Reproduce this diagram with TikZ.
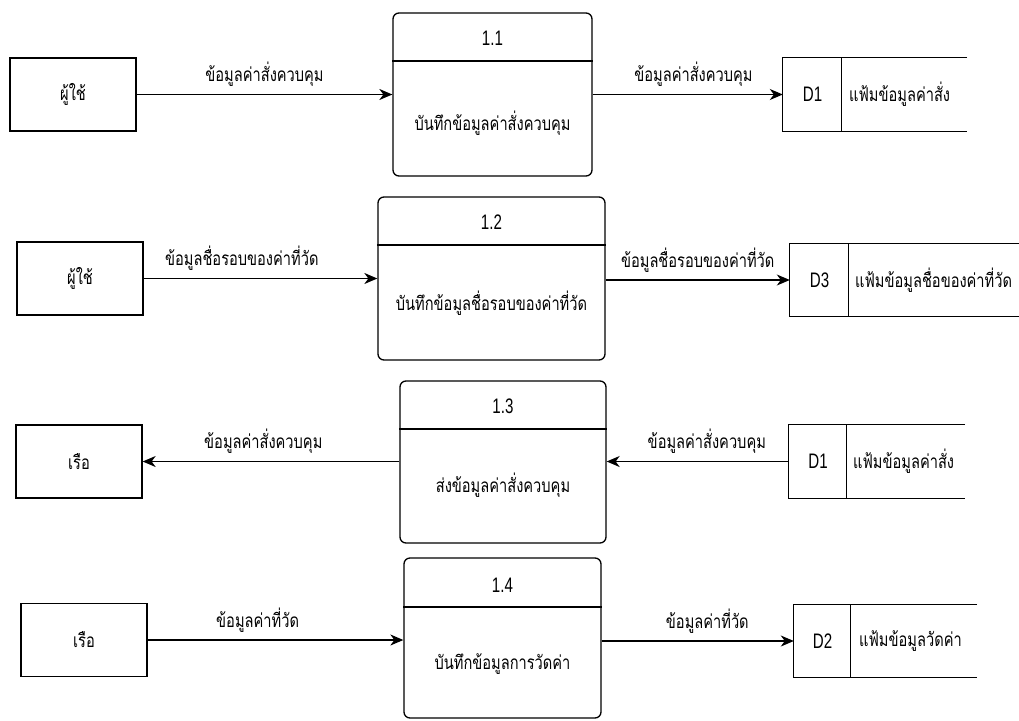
\documentclass[tikz,border=0pt]{standalone}
\usepackage{fontspec}
\setmainfont[FakeStretch=0.72]{Liberation Sans}
\newfontfamily\thaifont[Script=Thai,FakeStretch=0.77]{Loma}
\usetikzlibrary{arrows.meta}
\tikzset{
  ln/.style={line width=1.3pt},
  ent/.style={draw, ln, minimum width=126pt, minimum height=73pt, inner sep=0pt,
    font=\thaifont\fontsize{19}{22}\selectfont},
  proc/.style={draw, ln, rounded corners=6pt, inner sep=0pt},
  storebox/.style={inner sep=0pt, minimum height=73pt},
  num/.style={inner sep=0pt, font=\fontsize{21}{24}\selectfont},
  ttext/.style={inner sep=0pt, font=\thaifont\fontsize{19}{22}\selectfont},
  flow/.style={ln, -{Stealth[length=13pt,width=11pt,inset=4pt]}},
  lbl/.style={ttext, above=7pt}
}
\begin{document}
\begin{tikzpicture}[x=1pt,y=-1pt]
\useasboundingbox (0,0) rectangle (1019,720);
\clip (0,0) rectangle (1019,720);
\fill[white] (0,0) rectangle (1019,720);

% ---------- row 1 ----------
\node[ent] (e1) at (73,94.5) {ผู้ใช้};
\node[proc, minimum width=199pt, minimum height=163pt] (p1) at (492.5,94.5) {};
\draw[ln] (p1.west |- 0,61) -- (p1.east |- 0,61);
\node[num] (p1n) at (492.5,38) {1.1};
\node[ttext] (p1t) at (492.5,123) {บันทึกข้อมูลค่าสั่งควบคุม};
\node[storebox, minimum width=184pt] (s1) at (875,94.5) {};
\draw[ln] (s1.north east) -- (s1.north west) -- (s1.south west) -- (s1.south east);
\draw[ln] ([xshift=59pt]s1.north west) -- ([xshift=59pt]s1.south west);
\node[num] (s1id) at (812.5,94.5) {D1};
\node[ttext, anchor=west] (s1t) at (849,94.5) {แฟ้มข้อมูลค่าสั่ง};
\draw[flow] (e1.east) -- node[lbl] {ข้อมูลค่าสั่งควบคุม} (e1.east -| p1.west);
\draw[flow] (p1.east |- s1.west) -- node[lbl, pos=0.53] {ข้อมูลค่าสั่งควบคุม} (s1.west);

% ---------- row 2 ----------
\node[ent] (e2) at (80,278.5) {ผู้ใช้};
\node[proc, minimum width=227pt, minimum height=163pt] (p2) at (491.5,278.5) {};
\draw[ln] (p2.west |- 0,245) -- (p2.east |- 0,245);
\node[num] (p2n) at (491.5,222) {1.2};
\node[ttext] (p2t) at (491.5,303) {บันทึกข้อมูลชื่อรอบของค่าที่วัด};
\node[storebox, minimum width=250pt] (s3) at (915,280) {};
\draw[ln] (s3.north east) -- (s3.north west) -- (s3.south west) -- (s3.south east);
\draw[ln] ([xshift=59pt]s3.north west) -- ([xshift=59pt]s3.south west);
\node[num] (s3id) at (819.5,280) {D3};
\node[ttext, anchor=west] (s3t) at (855,280) {แฟ้มข้อมูลชื่อของค่าที่วัด};
\draw[flow] (e2.east) -- node[lbl, pos=0.42] {ข้อมูลชื่อรอบของค่าที่วัด} (e2.east -| p2.west);
\draw[flow] (p2.east |- s3.west) -- node[lbl] {ข้อมูลชื่อรอบของค่าที่วัด} (s3.west);

% ---------- row 3 ----------
\node[ent] (e3) at (79,461.5) {เรือ};
\node[proc, minimum width=206pt, minimum height=162pt] (p3) at (503,462) {};
\draw[ln] (p3.west |- 0,429) -- (p3.east |- 0,429);
\node[num] (p3n) at (503,406) {1.3};
\node[ttext] (p3t) at (503,485) {ส่งข้อมูลค่าสั่งควบคุม};
\node[storebox, minimum width=176pt] (s1b) at (877,461.5) {};
\draw[ln] (s1b.north east) -- (s1b.north west) -- (s1b.south west) -- (s1b.south east);
\draw[ln] ([xshift=58pt]s1b.north west) -- ([xshift=58pt]s1b.south west);
\node[num] (s1bid) at (818,461.5) {D1};
\node[ttext, anchor=west] (s1bt) at (853,461.5) {แฟ้มข้อมูลค่าสั่ง};
\draw[flow] (s1b.west) -- node[lbl, pos=0.45] {ข้อมูลค่าสั่งควบคุม} (s1b.west -| p3.east);
\draw[flow] (p3.west |- e3.east) -- node[lbl, pos=0.53] {ข้อมูลค่าสั่งควบคุม} (e3.east);

% ---------- row 4 ----------
\node[ent] (e4) at (84,640) {เรือ};
\node[proc, minimum width=197pt, minimum height=160pt] (p4) at (502.5,638) {};
\draw[ln] (p4.west |- 0,607) -- (p4.east |- 0,607);
\node[num] (p4n) at (502.5,585) {1.4};
\node[ttext] (p4t) at (502.5,664) {บันทึกข้อมูลการวัดค่า};
\node[storebox, minimum width=183pt] (s2) at (885.5,641) {};
\draw[ln] (s2.north east) -- (s2.north west) -- (s2.south west) -- (s2.south east);
\draw[ln] ([xshift=57pt]s2.north west) -- ([xshift=57pt]s2.south west);
\node[num] (s2id) at (822.5,641) {D2};
\node[ttext, anchor=west] (s2t) at (859,641) {แฟ้มข้อมูลวัดค่า};
\draw[flow] (e4.east) -- node[lbl, pos=0.43] {ข้อมูลค่าที่วัด} (e4.east -| p4.west);
\draw[flow] (p4.east |- s2.west) -- node[lbl, pos=0.55] {ข้อมูลค่าที่วัด} (s2.west);
\end{tikzpicture}
\end{document}
